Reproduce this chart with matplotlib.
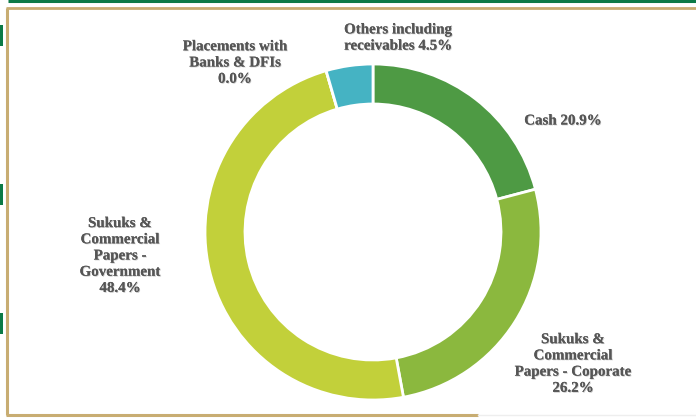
import matplotlib
matplotlib.use("Agg")
import matplotlib.pyplot as plt
import matplotlib.patheffects as pe

# asset allocation (%), clockwise from 12 o'clock
labels = ["Cash 20.9%",
          "Sukuks &\nCommercial\nPapers - Coporate\n26.2%",
          "Sukuks &\nCommercial\nPapers -\nGovernment\n48.4%",
          "Placements with\nBanks & DFIs\n0.0%",
          "Others including\nreceivables 4.5%"]
shares = [20.9, 26.2, 48.4, 0.0, 4.5]
colors = ["#4e9a44", "#8bb83e", "#c2d03a", "#c2d03a", "#45b3c3"]
label_pos = [(563, 121), (573, 364), (120, 256), (235, 63), (398, 38)]

W, H = 696, 418
fig = plt.figure(figsize=(W / 100, H / 100), dpi=100)
ax = fig.add_axes([0, 0, 1, 1])

def fy(y):
    return H - y

ax.pie(shares, colors=colors, startangle=90, counterclock=False,
       center=(373, fy(232)), radius=168, frame=True,
       wedgeprops=dict(width=40, edgecolor="white", linewidth=2))

shadow = [pe.withSimplePatchShadow(offset=(0.6, -0.6), shadow_rgbFace="#bbbbbb", alpha=0.8),
          pe.Normal()]
for txt, (x, y) in zip(labels, label_pos):
    ax.text(x, fy(y), txt, ha="center", va="center", fontsize=10.8,
            family="Liberation Serif", weight="bold", color="#565656",
            linespacing=1.32, path_effects=shadow)

# page frame
ax.plot([8, W], [fy(1), fy(1)], color="#0b7a46", lw=2.2, solid_capstyle="butt")
ax.plot([6, W], [fy(7.5), fy(7.5)], color="#c8ad72", lw=2.0, solid_capstyle="butt")
ax.plot([7, 7], [fy(7.5), fy(415)], color="#c8ad72", lw=2.2, solid_capstyle="butt")
ax.plot([6, 478], [fy(415), fy(415)], color="#c8ad72", lw=2.2, solid_capstyle="butt")
ax.plot([478, W], [fy(415), fy(415)], color="#eeeeee", lw=1.0)
for y0, y1 in [(25, 46), (184, 205), (313, 334)]:
    ax.fill_between([0, 3], fy(y1), fy(y0), color="#0b7a46", lw=0)

ax.set_xlim(0, W)
ax.set_ylim(0, H)
ax.set_aspect("equal")
ax.axis("off")
fig.savefig("out.png", dpi=100)
